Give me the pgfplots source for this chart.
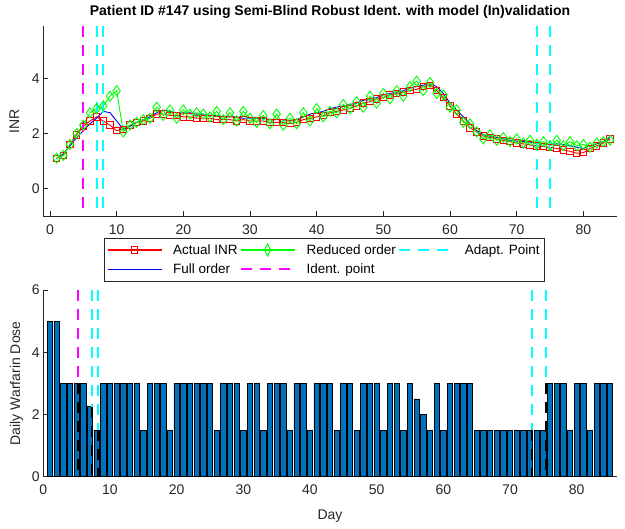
\documentclass[border=0pt]{standalone}
\usepackage{fontspec}
\setmainfont{Liberation Sans}
\usepackage{pgfplots}
\pgfplotsset{compat=1.18}
\definecolor{mblue}{rgb}{0,0.447,0.741}
\definecolor{axgray}{rgb}{0.15,0.15,0.15}
\definecolor{mred}{rgb}{1,0,0}
\definecolor{mgreen}{rgb}{0,1,0}
\definecolor{mfull}{rgb}{0,0,1}
\definecolor{mcyan}{rgb}{0,1,1}
\definecolor{mmag}{rgb}{1,0,1}
\tikzset{vl/.style={line width=1.9pt, dash pattern=on 11pt off 8pt}}

\pgfplotstableread{
day act full red
1 1.10 1.10 1.10
2 1.20 1.25 1.20
3 1.60 1.55 1.60
4 1.95 1.85 2.00
5 2.25 2.10 2.30
6 2.45 2.35 2.75
7 2.60 2.55 2.90
8 2.45 2.80 3.00
9 2.30 2.75 3.35
10 2.10 2.45 3.55
11 2.15 2.15 2.05
12 2.30 2.25 2.30
13 2.40 2.40 2.40
14 2.45 2.50 2.50
15 2.55 2.60 2.55
16 2.70 2.75 2.95
17 2.70 2.85 2.65
18 2.65 2.80 2.85
19 2.65 2.75 2.55
20 2.60 2.75 2.85
21 2.60 2.75 2.70
22 2.55 2.70 2.75
23 2.55 2.70 2.70
24 2.55 2.65 2.60
25 2.50 2.65 2.80
26 2.50 2.60 2.50
27 2.50 2.60 2.75
28 2.45 2.60 2.45
29 2.50 2.55 2.80
30 2.45 2.55 2.55
31 2.45 2.55 2.40
32 2.45 2.55 2.65
33 2.40 2.50 2.35
34 2.40 2.50 2.70
35 2.40 2.50 2.30
36 2.35 2.45 2.55
37 2.40 2.50 2.35
38 2.50 2.60 2.75
39 2.55 2.70 2.45
40 2.60 2.75 2.90
41 2.65 2.80 2.60
42 2.75 2.90 2.80
43 2.80 2.95 2.75
44 2.85 3.00 3.05
45 2.90 3.05 2.90
46 3.00 3.10 3.15
47 3.10 3.20 2.95
48 3.15 3.25 3.35
49 3.25 3.30 3.10
50 3.30 3.40 3.45
51 3.40 3.45 3.25
52 3.45 3.50 3.55
53 3.50 3.55 3.35
54 3.55 3.65 3.70
55 3.60 3.70 3.90
56 3.70 3.75 3.55
57 3.75 3.80 3.85
58 3.55 3.70 3.45
59 3.30 3.45 3.40
60 3.00 3.10 2.95
61 2.70 2.85 2.85
62 2.45 2.60 2.40
63 2.20 2.35 2.35
64 2.05 2.10 2.05
65 1.90 1.95 1.80
66 1.85 1.90 1.95
67 1.80 1.85 1.75
68 1.75 1.80 1.85
69 1.70 1.75 1.70
70 1.65 1.72 1.80
71 1.62 1.70 1.65
72 1.58 1.68 1.75
73 1.55 1.65 1.60
74 1.52 1.62 1.70
75 1.50 1.60 1.55
76 1.45 1.62 1.75
77 1.40 1.60 1.55
78 1.35 1.55 1.70
79 1.28 1.50 1.55
80 1.30 1.45 1.60
81 1.45 1.55 1.50
82 1.55 1.62 1.65
83 1.65 1.70 1.70
84 1.80 1.85 1.75
}\inr

\pgfplotstableread{
day dose
1 5
2 5
3 3
4 3
5 3
6 3
7 2.25
8 1.5
9 3
10 3
11 3
12 3
13 3
14 3
15 1.5
16 3
17 3
18 3
19 1.5
20 3
21 3
22 3
23 3
24 3
25 3
26 1.5
27 3
28 3
29 3
30 1.5
31 3
32 3
33 1.5
34 3
35 3
36 3
37 1.5
38 3
39 3
40 1.5
41 3
42 3
43 3
44 1.5
45 3
46 3
47 1.5
48 3
49 3
50 3
51 1.5
52 3
53 3
54 1.5
55 3
56 2.5
57 2
58 1.5
59 3
60 1.5
61 3
62 3
63 3
64 3
65 1.5
66 1.5
67 1.5
68 1.5
69 1.5
70 1.5
71 1.5
72 1.5
73 1.5
74 1.5
75 1.5
76 3
77 3
78 3
79 1.5
80 3
81 3
82 1.5
83 3
84 3
85 3
}\dose

\pgfplotsset{
  mataxis/.style={
    scale only axis, width=573.4pt,
    axis lines=left, axis line style={-, axgray, line width=0.6pt},
    tick style={axgray, line width=0.6pt}, tick align=inside,
    major tick length=5pt,
    ticklabel style={font=\fontsize{14}{16}\selectfont, text=axgray},
    xticklabel style={yshift=-5pt},
    label style={font=\fontsize{14}{16}\selectfont, text=axgray},
    /pgf/number format/assume math mode=true,
    xtick={0,10,...,80},
  },
}

\begin{document}
\begin{tikzpicture}
\path[use as bounding box] (-43.3pt,-313pt) rectangle (581.7pt,216pt);

\begin{axis}[mataxis, name=top, height=190pt,
  xmin=-1, xmax=85, ymin=-1, ymax=5.9, ytick={0,2,4},
  ylabel={INR}, ylabel style={yshift=6pt},
  title={Patient ID \#147 using Semi-Blind Robust Ident. with model (In)validation},
  title style={font=\bfseries\fontsize{14}{16}\selectfont, yshift=-2pt},
  legend columns=3,
  legend cell align=left,
  legend style={at={(axis description cs:0.49,-0.116)}, anchor=north,
    draw=axgray, line width=0.6pt, font=\fontsize{13.5}{15}\selectfont,
    /tikz/every odd column/.append style={column sep=9pt},
    /tikz/row sep=4pt,
    inner ysep=4pt},
]
\addlegendimage{legend image code/.code={
  \draw[mred, line width=1.3pt] (0pt,0pt) -- (54pt,0pt);
  \draw[mred, line width=1pt] (23.8pt,-3.2pt) rectangle (30.2pt,3.2pt);}}
\addlegendentry{Actual INR}
\addlegendimage{legend image code/.code={
  \draw[mgreen, line width=1.3pt] (0pt,0pt) -- (54pt,0pt);
  \draw[mgreen, line width=1pt] (27pt,-6pt) -- (30pt,0pt) -- (27pt,6pt) -- (24pt,0pt) -- cycle;}}
\addlegendentry{Reduced order}
\addlegendimage{legend image code/.code={
  \draw[mcyan, vl] (0pt,0pt) -- (54pt,0pt);}}
\addlegendentry{Adapt. Point}
\addlegendimage{legend image code/.code={
  \draw[mfull, line width=1.3pt] (0pt,0pt) -- (54pt,0pt);}}
\addlegendentry{Full order}
\addlegendimage{legend image code/.code={
  \draw[mmag, vl] (0pt,0pt) -- (54pt,0pt);}}
\addlegendentry{Ident. point}

\addplot[forget plot, mred, line width=0.9pt, mark=square, mark size=3.2pt] table[x=day, y=act] {\inr};
\addplot[forget plot, mfull, line width=0.9pt] table[x=day, y=full] {\inr};
\addplot[forget plot, mgreen, line width=0.9pt, mark=diamond, mark size=5pt] table[x=day, y=red] {\inr};

\addplot[forget plot, mmag, vl] coordinates {(5,5.9) (5,-1)};
\addplot[forget plot, mcyan, vl] coordinates {(7,5.9) (7,-1)};
\addplot[forget plot, mcyan, vl] coordinates {(8,5.9) (8,-1)};
\addplot[forget plot, mcyan, vl] coordinates {(73,5.9) (73,-1)};
\addplot[forget plot, mcyan, vl] coordinates {(75,5.9) (75,-1)};
\end{axis}

\begin{axis}[mataxis, at={(0,-74pt)}, anchor=north west, height=186.7pt,
  xmin=0, xmax=86, ymin=0, ymax=6, ytick={0,2,4,6},
  xlabel={Day}, xlabel style={yshift=-8pt},
  ylabel={Daily Warfarin Dose}, ylabel style={yshift=2pt},
]
\addplot[ybar, bar width=0.8, bar shift=0pt, fill=mblue, draw=black, line width=0.6pt] table[x=day, y=dose] {\dose};

\addplot[mmag, vl] coordinates {(5.25,6) (5.25,3)};
\addplot[black, vl] coordinates {(5.25,3) (5.25,0)};
\addplot[mcyan, vl] coordinates {(7.25,6) (7.25,2.25)};
\addplot[black, vl] coordinates {(7.25,2.25) (7.25,0)};
\addplot[mcyan, vl] coordinates {(8.25,6) (8.25,1.5)};
\addplot[black, vl] coordinates {(8.25,1.5) (8.25,0)};
\addplot[mcyan, vl] coordinates {(73.3,6) (73.3,1.5)};
\addplot[black, vl] coordinates {(73.3,1.5) (73.3,0)};
\addplot[mcyan, vl] coordinates {(75.4,6) (75.4,3)};
\addplot[black, vl] coordinates {(75.4,3) (75.4,0)};
\end{axis}
\end{tikzpicture}
\end{document}
